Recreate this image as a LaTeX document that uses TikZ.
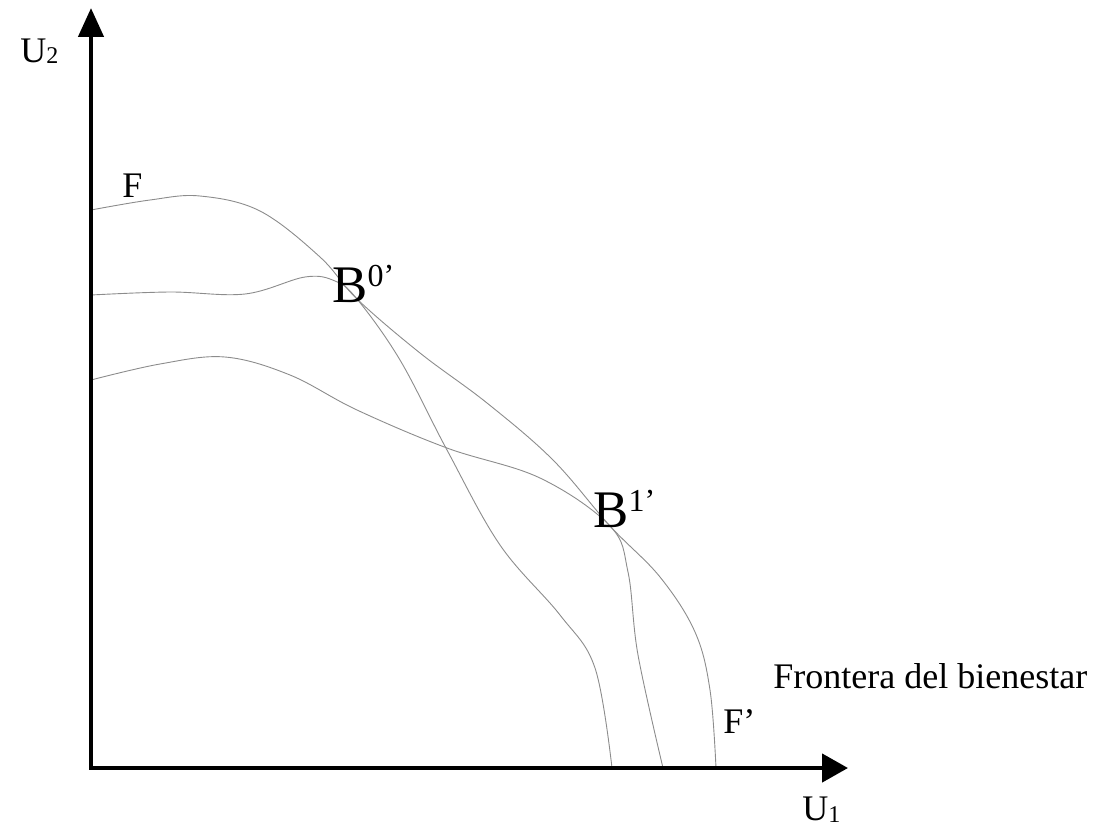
\documentclass[tikz,border=0pt]{standalone}
\usepackage{fontspec}
\setmainfont{Liberation Serif}
\usetikzlibrary{arrows.meta}
\newcommand\hi[1]{\raisebox{8pt}{\fontsize{16}{16}\selectfont #1}}
\newcommand\lo[1]{\raisebox{-1pt}{\fontsize{12}{12}\selectfont #1}}
\tikzset{
  ax/.style={line width=2.25pt,line join=miter,
    {Triangle[length=14.5pt,width=12.5pt]}-{Triangle[length=13pt,width=14pt]}},
  cv/.style={draw=black!45,line width=0.45pt},
  lb/.style={anchor=base west,inner sep=0pt,font=\fontsize{18}{18}\selectfont},
  big/.style={anchor=base west,inner sep=0pt,font=\fontsize{26.4}{27}\selectfont},
}
\begin{document}
\begin{tikzpicture}[x=0.5pt,y=-0.5pt]
\useasboundingbox (0,0) rectangle (1106,829);
\coordinate (o) at (91,768); \coordinate (yt) at (91,8); \coordinate (xt) at (848,768);
\coordinate (b0) at (357,299); \coordinate (b1) at (610,526);
% frontiers
\draw[cv] plot[smooth,tension=0.6] coordinates {(91,210) (150,200) (200,196) (260,211) (320,257)
  (b0) (420,353) (487,403) (553,460) (b1) (660,577) (695,632) (710,690) (716,768)};
\draw[cv] plot[smooth,tension=0.6] coordinates {(91,295) (170,292) (245,294) (305,277) (335,281)
  (b0) (400,360) (447,450) (500,545) (560,615) (595,668) (612,768)};
\draw[cv] plot[smooth,tension=0.6] coordinates {(91,380) (160,364) (225,357) (290,375) (357,410)
  (447,448) (540,478) (b1) (628,572) (638,655) (663,768)};
% axes
\draw[ax] (yt) |- (xt);
\node[lb] (u2) at (20,62) {U\lo{2}};
\node[lb] (u1) at (802,820) {U\lo{1}};
\node[lb] (f) at (122,197) {F};
\node[lb] (f1) at (723,733) {F’};
\node[lb] (fb) at (773,688) {Frontera del bienestar};
\node[big] (lb0) at (332,302) {B\hi{0’}};
\node[big] (lb1) at (593,527) {B\hi{1’}};
\end{tikzpicture}
\end{document}
